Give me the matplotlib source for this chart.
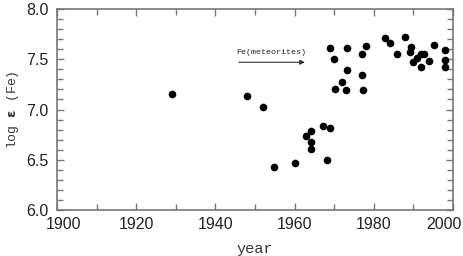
import matplotlib
matplotlib.use("Agg")
import matplotlib.pyplot as plt
import matplotlib.transforms as mtransforms
from matplotlib.ticker import MultipleLocator

years = [1929.0, 1948.0, 1952.0, 1954.9, 1960.0, 1968.1, 1964.1, 1964.1, 1963.0,
         1964.1, 1967.1, 1968.9, 1969.0, 1973.2, 1978.0, 1970.0, 1977.0, 1973.3,
         1972.0, 1977.0, 1970.3, 1973.0, 1977.2, 1982.8, 1984.1, 1987.8, 1989.4,
         1989.1, 1985.9, 1995.2, 1989.9, 1990.8, 1991.8, 1992.8, 1991.8, 1993.9,
         1998.1, 1997.9, 1998.1]
log_eps = [7.15, 7.13, 7.02, 6.43, 6.47, 6.50, 6.61, 6.68, 6.74,
           6.79, 6.84, 6.82, 7.61, 7.61, 7.63, 7.50, 7.55, 7.39,
           7.27, 7.34, 7.20, 7.19, 7.19, 7.71, 7.66, 7.72, 7.62,
           7.57, 7.55, 7.64, 7.47, 7.51, 7.55, 7.55, 7.42, 7.48,
           7.59, 7.49, 7.42]
x_ticks = [1900, 1920, 1940, 1960, 1980, 2000]
y_ticks = [6.0, 6.5, 7.0, 7.5, 8.0]
annot_text = "Fe(meteorites)"

fig = plt.figure(figsize=(4.63, 2.56), dpi=100)
ax = fig.add_axes([57/463, 1-210/256, (453-57)/463, (210-9)/256])

ax.plot(years, log_eps, 'o', color='black', ms=5.5, mew=0)

ax.set_xlim(1900, 2000)
ax.set_ylim(6.0, 8.0)
ax.set_xticks(x_ticks)
ax.set_yticks(y_ticks)
ax.set_xticklabels([str(v) for v in x_ticks])
ax.set_yticklabels([f"{v:.1f}" for v in y_ticks])
ax.xaxis.set_minor_locator(MultipleLocator(10))
ax.yaxis.set_minor_locator(MultipleLocator(0.1))

spine_col = '#777777'
for s in ax.spines.values():
    s.set_color(spine_col)
    s.set_linewidth(1.2)
ax.tick_params(which='both', direction='in', top=True, right=True, color=spine_col, width=1.0)
ax.tick_params(which='major', length=5)
ax.tick_params(axis='x', which='major', pad=5)
ax.tick_params(axis='y', which='major', pad=6)
ax.tick_params(which='minor', length=4)
for lab in ax.get_xticklabels() + ax.get_yticklabels():
    lab.set_fontfamily('Liberation Sans')
    lab.set_fontsize(11.5)
    lab.set_color('#222222')

# shift edge labels inward as in the reference
xl = ax.get_xticklabels()
xl[0].set_transform(xl[0].get_transform() + mtransforms.ScaledTranslation(6.5/100, 0, fig.dpi_scale_trans))
xl[-1].set_transform(xl[-1].get_transform() + mtransforms.ScaledTranslation(-9.5/100, 0, fig.dpi_scale_trans))

ax.set_xlabel('year', family='Liberation Mono', fontsize=11, color='#333333', labelpad=7)
ax.set_ylabel(r'log $\mathbf{\epsilon}$ (Fe)', family='Liberation Mono', fontsize=9.5, color='#333333', labelpad=4)

ax.annotate('', xy=(1963.3, 7.47), xytext=(1945.2, 7.47),
            arrowprops=dict(arrowstyle='-|>', color='#333333', lw=0.8, mutation_scale=7))
ax.text(1945.2, 7.57, annot_text, family='Liberation Mono', fontsize=6, color='#222222',
        va='center', ha='left')

fig.savefig('out.png', dpi=100)
